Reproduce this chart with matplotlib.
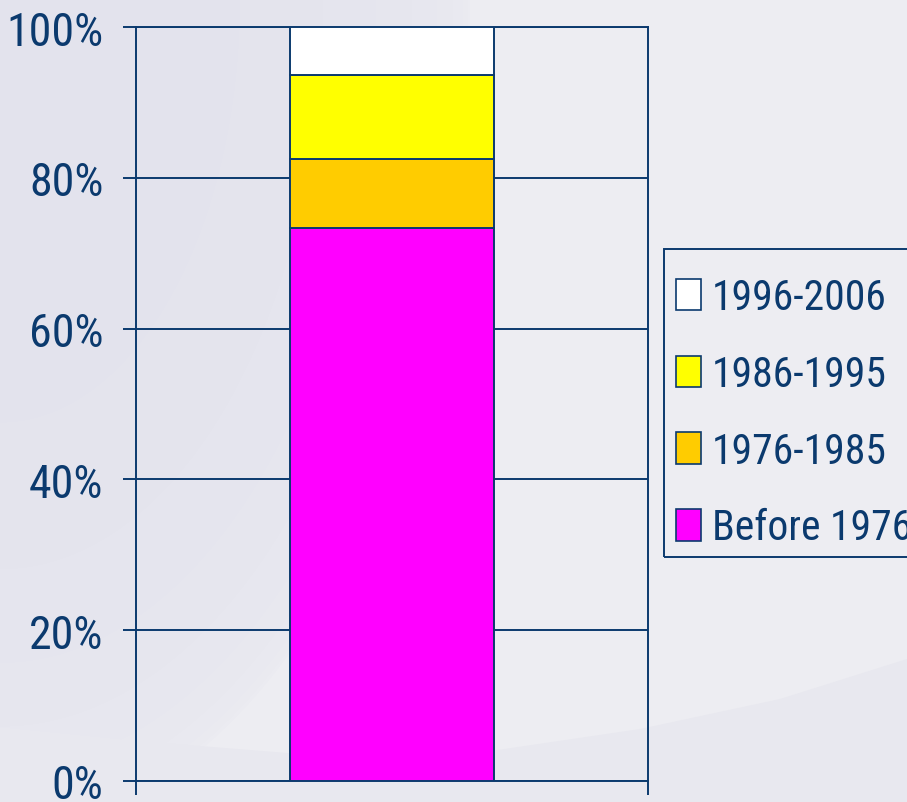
import numpy as np
import matplotlib
matplotlib.use("Agg")
import matplotlib.pyplot as plt
from matplotlib import font_manager
from matplotlib.patches import Patch, Rectangle

# Data
categories = [""]
series_names = ["Before 1976", "1976-1985", "1986-1995", "1996-2006"]
series_values = [73.3, 9.15, 11.15, 6.4]
series_colors = ["#ff00ff", "#ffcc00", "#ffff00", "#ffffff"]
ytick_values = [0, 20, 40, 60, 80, 100]
ytick_labels = ["0%", "20%", "40%", "60%", "80%", "100%"]

# prefer an Arial-Narrow-like font, else Liberation Sans
preferred = ["Liberation Sans Narrow", "Arial Narrow", "Roboto Condensed",
             "Open Sans Condensed"]
cond = None
for name in preferred:
    for f in font_manager.fontManager.ttflist:
        if f.name == name and f.style == "normal" and f.weight in (400, "normal", "regular"):
            cond = f
            break
    if cond is not None:
        break

if cond is not None:
    fp_kwargs = dict(fname=cond.fname)
    tick_size, leg_size = 33, 30
else:
    fp_kwargs = dict(family=["Liberation Sans", "DejaVu Sans"])
    tick_size, leg_size = 28, 26
plt.rcParams["font.family"] = ["Liberation Sans", "DejaVu Sans"]

navy = "#0b3a6e"
W, H = 907, 803
fig = plt.figure(figsize=(W / 100, H / 100), dpi=100)

# background: light base, darker top-left region, darker swoosh band at bottom
bg = fig.add_axes([0, 0, 1, 1], zorder=-10)
yy, xx = np.mgrid[0:H, 0:W].astype(float)
light = np.array([237, 237, 242]) / 255
dark = np.array([227, 227, 237]) / 255
w = np.clip(1 - ((xx / 470) ** 2 + (yy / 830) ** 2), 0, 1) ** 0.35
img = light + (dark - light) * w[..., None]
bg.imshow(img, extent=[0, W, H, 0], aspect="auto", interpolation="bilinear")
sx = [0, 150, 300, 450, 640, 780, 907]
sy = [728, 743, 755, 758, 730, 700, 660]
cx = np.linspace(0, W, 200)
cy = np.interp(cx, sx, sy)
bg.fill_between(cx, cy, H, color="#e8e8ef", lw=0)
bg.set_xlim(0, W)
bg.set_ylim(H, 0)
bg.axis("off")

ax = fig.add_axes([136 / W, 21 / H, (648 - 136) / W, (782 - 28) / H])
ax.set_facecolor("none")

x = np.arange(len(categories))
bottom = np.zeros(len(categories))
for name, val, col in zip(series_names, series_values, series_colors):
    ax.bar(x, [val], width=0.398, bottom=bottom, color=col, edgecolor=navy,
           linewidth=1.4, label=name, zorder=3)
    bottom += val

ax.set_xlim(-0.5, 0.5)
ax.set_ylim(0, 100)
ax.set_yticks(ytick_values)
ax.set_yticklabels(ytick_labels)
for t in ax.get_yticklabels():
    t.set_fontproperties(font_manager.FontProperties(size=tick_size, **fp_kwargs))
    t.set_color(navy)
ax.set_xticks([-0.5, 0.5])
ax.set_xticklabels(["", ""])
ax.yaxis.grid(True, color=navy, linewidth=1.4, zorder=1)
ax.set_axisbelow(True)
for s in ax.spines.values():
    s.set_color(navy)
    s.set_linewidth(1.4)
ax.tick_params(axis="y", length=9.5, width=1.4, color=navy, pad=14)
ax.tick_params(axis="x", length=10, width=1.4, color=navy, direction="out")

# legend frame
fig.add_artist(Rectangle((664 / W, 1 - 558 / H), (915 - 664) / W, (558 - 250) / H,
                         transform=fig.transFigure, fill=False, edgecolor=navy,
                         linewidth=1.4))
handles = [Patch(facecolor=c, edgecolor=navy, linewidth=1.2)
           for c in series_colors[::-1]]
fs_px = leg_size * 100 / 72
leg = fig.legend(handles, series_names[::-1], loc="upper left",
                 bbox_to_anchor=(664 / W, 1 - 266 / H), frameon=False,
                 prop=font_manager.FontProperties(size=leg_size, **fp_kwargs),
                 labelcolor=navy, handlelength=25 / fs_px,
                 handleheight=33 / fs_px, handletextpad=11 / fs_px,
                 labelspacing=0.86, borderpad=12 / fs_px, borderaxespad=0)

fig.savefig("out.png", dpi=100)
